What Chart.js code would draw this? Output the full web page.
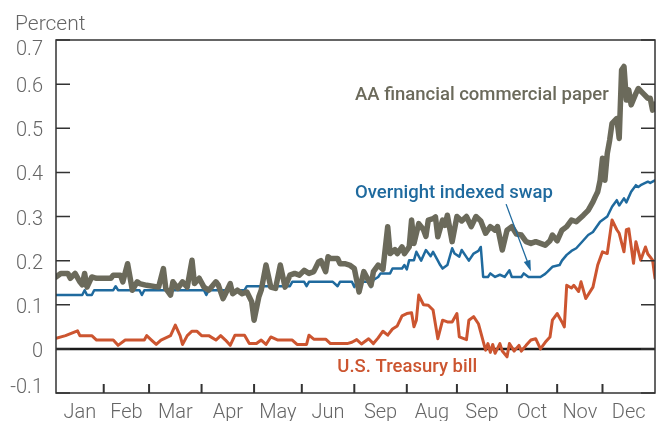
<!DOCTYPE html>
<html>
<head>
<meta charset="utf-8">
<script src="https://cdn.jsdelivr.net/npm/chart.js@4.4.1/dist/chart.umd.min.js"></script>
<style>
  html, body { margin: 0; padding: 0; background: #fff; }
  #wrap { width: 657px; height: 421px; position: relative; }
</style>
</head>
<body>
<div id="wrap"><canvas id="rates"></canvas></div>
<script>
// Month labels (the 7th label reads "Sep" in the original) and business days per month
const monthNames = ['Jan', 'Feb', 'Mar', 'Apr', 'May', 'Jun', 'Sep', 'Aug', 'Sep', 'Oct', 'Nov', 'Dec'];
const monthDays = [20, 19, 22, 22, 20, 22, 22, 21, 21, 21, 19, 22];

const yTicks = [-0.1, 0, 0.1, 0.2, 0.3, 0.4, 0.5, 0.6, 0.7];
const yTickLabels = ['-0.1', '0', '0.1', '0.2', '0.3', '0.4', '0.5', '0.6', '0.7'];

// [business day, percent]
const commercialPaper = [
    [0, 0.163], [2, 0.171], [5, 0.171], [6, 0.16], [8, 0.171], [10, 0.152], [11, 0.145], [12, 0.171],
    [13, 0.14], [15, 0.163], [17, 0.16], [23, 0.16], [24, 0.167], [27, 0.167], [28, 0.152], [30, 0.193],
    [32, 0.133], [34, 0.152], [35, 0.148], [38, 0.144], [43, 0.14], [45, 0.182], [46, 0.137], [48, 0.122],
    [49, 0.152], [51, 0.137], [53, 0.152], [55, 0.14], [57, 0.201], [58, 0.148], [60, 0.16], [62, 0.14],
    [64, 0.133], [67, 0.152], [68, 0.145], [70, 0.114], [71, 0.125], [73, 0.148], [74, 0.125], [76, 0.133],
    [78, 0.125], [80, 0.129], [82, 0.107], [83, 0.065], [85, 0.118], [86, 0.133], [88, 0.19], [90, 0.14],
    [92, 0.137], [94, 0.19], [96, 0.14], [98, 0.167], [100, 0.171], [102, 0.167], [104, 0.178], [106, 0.171],
    [108, 0.175], [110, 0.197], [111, 0.2], [113, 0.175], [114, 0.209], [115, 0.205], [118, 0.205], [119, 0.193],
    [121, 0.193], [123, 0.19], [125, 0.182], [127, 0.129], [129, 0.175], [132, 0.144], [133, 0.175], [135, 0.19],
    [137, 0.18], [139, 0.277], [140, 0.216], [142, 0.225], [143, 0.216], [145, 0.231], [146, 0.216], [148, 0.231],
    [149, 0.292], [150, 0.239], [152, 0.284], [154, 0.27], [155, 0.255], [156, 0.292], [158, 0.295], [159, 0.299],
    [160, 0.254], [162, 0.292], [163, 0.28], [164, 0.303], [166, 0.243], [168, 0.3], [170, 0.29], [172, 0.3],
    [174, 0.277], [176, 0.3], [178, 0.29], [180, 0.262], [182, 0.277], [184, 0.269], [185, 0.277], [187, 0.224],
    [189, 0.269], [191, 0.277], [193, 0.26], [195, 0.258], [197, 0.243], [199, 0.239], [201, 0.243], [203, 0.239],
    [205, 0.235], [207, 0.245], [208, 0.258], [210, 0.245], [212, 0.269], [214, 0.277], [216, 0.292], [218, 0.288],
    [221, 0.303], [223, 0.314], [225, 0.333], [226, 0.345], [227, 0.356], [228, 0.382], [229, 0.432], [230, 0.382],
    [231, 0.443], [232, 0.473], [233, 0.511], [235, 0.522], [236, 0.477], [237, 0.632], [238, 0.64], [239, 0.564],
    [240, 0.587], [241, 0.553], [243, 0.579], [244, 0.59], [246, 0.579], [248, 0.568], [249, 0.568], [250, 0.541],
    [251, 0.555]
];

const overnightSwap = [
    [0, 0.122], [11, 0.122], [12, 0.133], [13, 0.122], [15, 0.122], [16, 0.133], [24, 0.133], [25, 0.142],
    [26, 0.133], [35, 0.133], [36, 0.122], [37, 0.133], [62, 0.133], [63, 0.122], [64, 0.133], [79, 0.133],
    [80, 0.142], [98, 0.142], [99, 0.152], [104, 0.152], [105, 0.142], [106, 0.152], [116, 0.152], [118, 0.142],
    [119, 0.152], [124, 0.152], [125, 0.14], [126, 0.152], [131, 0.152], [132, 0.14], [133, 0.156], [135, 0.163],
    [136, 0.171], [140, 0.171], [141, 0.182], [145, 0.182], [146, 0.19], [147, 0.18], [148, 0.201], [150, 0.201],
    [151, 0.22], [153, 0.2], [155, 0.224], [157, 0.21], [158, 0.22], [160, 0.2], [161, 0.19], [162, 0.182],
    [164, 0.19], [166, 0.228], [167, 0.216], [169, 0.209], [170, 0.224], [173, 0.2], [175, 0.216], [177, 0.222],
    [178, 0.231], [179, 0.163], [181, 0.163], [182, 0.171], [184, 0.163], [186, 0.168], [188, 0.163], [190, 0.178],
    [191, 0.163], [195, 0.163], [196, 0.171], [198, 0.163], [203, 0.163], [205, 0.17], [206, 0.175], [208, 0.186],
    [211, 0.19], [212, 0.2], [214, 0.213], [216, 0.222], [218, 0.228], [220, 0.24], [223, 0.258], [225, 0.265],
    [228, 0.288], [231, 0.3], [233, 0.322], [235, 0.337], [236, 0.325], [238, 0.341], [239, 0.332], [241, 0.356],
    [243, 0.371], [244, 0.367], [245, 0.371], [248, 0.379], [249, 0.376], [251, 0.382]
];

const treasuryBill = [
    [0, 0.024], [4, 0.03], [9, 0.041], [10, 0.03], [15, 0.03], [17, 0.02], [24, 0.02], [26, 0.008],
    [29, 0.02], [37, 0.02], [38, 0.03], [40, 0.02], [42, 0.01], [44, 0.02], [48, 0.03], [50, 0.054],
    [52, 0.03], [53, 0.01], [55, 0.03], [57, 0.04], [59, 0.04], [61, 0.03], [64, 0.03], [67, 0.02],
    [69, 0.03], [71, 0.02], [73, 0.008], [75, 0.031], [79, 0.031], [81, 0.012], [84, 0.012], [86, 0.02],
    [88, 0.01], [90, 0.027], [93, 0.02], [99, 0.02], [101, 0.01], [105, 0.01], [106, 0.031], [108, 0.022],
    [113, 0.022], [115, 0.012], [122, 0.012], [124, 0.015], [126, 0.021], [128, 0.011], [131, 0.023], [133, 0.012],
    [135, 0.025], [137, 0.04], [139, 0.031], [141, 0.045], [143, 0.052], [145, 0.075], [147, 0.08], [149, 0.082],
    [150, 0.05], [151, 0.065], [152, 0.122], [154, 0.1], [156, 0.099], [158, 0.088], [160, 0.023], [162, 0.065],
    [164, 0.061], [166, 0.061], [168, 0.08], [169, 0.027], [172, 0.021], [173, 0.065], [175, 0.073], [177, 0.057],
    [180, -0.003], [181, 0.012], [182, -0.008], [183, 0.01], [184, -0.01], [186, 0.012], [187, -0.005], [189, -0.018],
    [190, 0.012], [192, -0.005], [194, 0.008], [195, -0.005], [197, 0.008], [199, 0.02], [201, 0.023], [203, 0.0],
    [205, 0.015], [207, 0.027], [208, 0.065], [210, 0.08], [212, 0.061], [213, 0.05], [214, 0.144], [216, 0.138],
    [217, 0.144], [219, 0.13], [220, 0.152], [222, 0.114], [225, 0.14], [227, 0.19], [229, 0.22], [231, 0.216],
    [233, 0.292], [235, 0.27], [236, 0.262], [238, 0.22], [239, 0.27], [240, 0.272], [242, 0.194], [243, 0.243],
    [245, 0.201], [247, 0.231], [248, 0.215], [250, 0.201], [251, 0.16]
];

const monthStarts = [0];
monthDays.forEach(n => monthStarts.push(monthStarts[monthStarts.length - 1] + n));
const lastDay = monthStarts[monthStarts.length - 1];

const toPoints = rows => rows.map(r => ({ x: r[0], y: r[1] }));

// Text labels placed in data units
const notes = [
    { text: 'AA financial commercial paper', day: 125.3, value: 0.564, color: '#6b6a5b' },
    { text: 'Overnight indexed swap', day: 125.3, value: 0.341, color: '#1f6a9e' },
    { text: 'U.S. Treasury bill', day: 117.9, value: -0.052, color: '#cc5530' }
];
const arrowFrom = { day: 188.6, value: 0.328 };
const arrowTo = { day: 199, value: 0.176 };

const FONT = 'Roboto, "Noto Sans", sans-serif';
const INK = '#333';

const decorations = {
    id: 'decorations',
    beforeDatasetsDraw(chart) {
        const { ctx, chartArea: area, scales: { y } } = chart;
        const y0 = y.getPixelForValue(0);
        ctx.save();
        ctx.strokeStyle = '#1a1a1a';
        ctx.lineWidth = 2.5;
        ctx.beginPath();
        ctx.moveTo(area.left, y0);
        ctx.lineTo(area.right, y0);
        ctx.stroke();
        ctx.restore();
    },
    afterDatasetsDraw(chart) {
        const { ctx, chartArea: area, scales: { x, y } } = chart;
        ctx.save();

        // frame and inward ticks
        ctx.strokeStyle = INK;
        ctx.lineWidth = 1.5;
        ctx.strokeRect(area.left, area.top, area.right - area.left, area.bottom - area.top);
        yTicks.forEach(v => {
            const py = y.getPixelForValue(v);
            ctx.beginPath();
            ctx.moveTo(area.left, py);
            ctx.lineTo(area.left + 14, py);
            ctx.moveTo(area.right - 14, py);
            ctx.lineTo(area.right, py);
            ctx.stroke();
        });
        ctx.lineWidth = 2;
        monthStarts.slice(1, -1).forEach(d => {
            const px = x.getPixelForValue(d);
            ctx.beginPath();
            ctx.moveTo(px, area.bottom);
            ctx.lineTo(px, area.bottom - 9);
            ctx.stroke();
        });

        // y tick labels, kept inside the frame at both ends
        ctx.fillStyle = '#666';
        ctx.font = '300 20px ' + FONT;
        ctx.textAlign = 'right';
        ctx.textBaseline = 'alphabetic';
        yTicks.forEach((v, i) => {
            let base = y.getPixelForValue(v) + 8;
            base = Math.max(area.top + 14.5, Math.min(area.bottom, base));
            ctx.fillText(yTickLabels[i], area.left - 13, base);
        });
        ctx.textAlign = 'left';
        ctx.font = '300 21px ' + FONT;
        ctx.fillText('Percent', 15, 29.5);

        // series labels
        ctx.font = '500 18.5px ' + FONT;
        notes.forEach(n => {
            ctx.fillStyle = n.color;
            ctx.fillText(n.text, x.getPixelForValue(n.day), y.getPixelForValue(n.value));
        });

        // arrow to the swap line
        const x1 = x.getPixelForValue(arrowFrom.day), y1 = y.getPixelForValue(arrowFrom.value);
        const x2 = x.getPixelForValue(arrowTo.day), y2 = y.getPixelForValue(arrowTo.value);
        const ang = Math.atan2(y2 - y1, x2 - x1);
        ctx.strokeStyle = '#1f6a9e';
        ctx.fillStyle = '#1f6a9e';
        ctx.lineWidth = 1.3;
        ctx.beginPath();
        ctx.moveTo(x1, y1);
        ctx.lineTo(x2 - 6 * Math.cos(ang), y2 - 6 * Math.sin(ang));
        ctx.stroke();
        ctx.beginPath();
        ctx.moveTo(x2, y2);
        ctx.lineTo(x2 - 11 * Math.cos(ang) + 3.5 * Math.sin(ang), y2 - 11 * Math.sin(ang) - 3.5 * Math.cos(ang));
        ctx.lineTo(x2 - 11 * Math.cos(ang) - 3.5 * Math.sin(ang), y2 - 11 * Math.sin(ang) + 3.5 * Math.cos(ang));
        ctx.closePath();
        ctx.fill();

        ctx.restore();
    }
};

new Chart(document.getElementById('rates'), {
    type: 'line',
    data: {
        datasets: [{
            label: 'AA financial commercial paper',
            data: toPoints(commercialPaper),
            borderColor: '#6b6a5b',
            borderWidth: 5.5,
            order: 1
        }, {
            label: 'Overnight indexed swap',
            data: toPoints(overnightSwap),
            borderColor: '#1f6a9e',
            borderWidth: 2.5,
            order: 2
        }, {
            label: 'U.S. Treasury bill',
            data: toPoints(treasuryBill),
            borderColor: '#cc5530',
            borderWidth: 3,
            order: 3
        }]
    },
    options: {
        responsive: true,
        maintainAspectRatio: false,
        animation: false,
        elements: {
            point: { radius: 0 },
            line: { tension: 0, borderJoinStyle: 'round', borderCapStyle: 'round' }
        },
        layout: { padding: { top: 40, right: 2, left: 0, bottom: 0 } },
        plugins: {
            legend: { display: false },
            tooltip: { enabled: false }
        },
        scales: {
            x: {
                type: 'linear',
                min: 0,
                max: lastDay,
                grid: { display: false },
                border: { display: false },
                afterBuildTicks: scale => {
                    scale.ticks = monthNames.map((m, i) => ({ value: (monthStarts[i] + monthStarts[i + 1]) / 2 }));
                },
                afterFit: scale => { scale.height = 28; },
                ticks: {
                    autoSkip: false,
                    maxRotation: 0,
                    padding: 0,
                    color: '#666',
                    font: { family: FONT, size: 20, weight: '300' },
                    callback: (val, i) => monthNames[i]
                }
            },
            y: {
                min: -0.1,
                max: 0.7,
                grid: { display: false },
                border: { display: false },
                afterFit: scale => { scale.width = 56; },
                ticks: { display: false, stepSize: 0.1 }
            }
        }
    },
    plugins: [decorations]
});
</script>
</body>
</html>
